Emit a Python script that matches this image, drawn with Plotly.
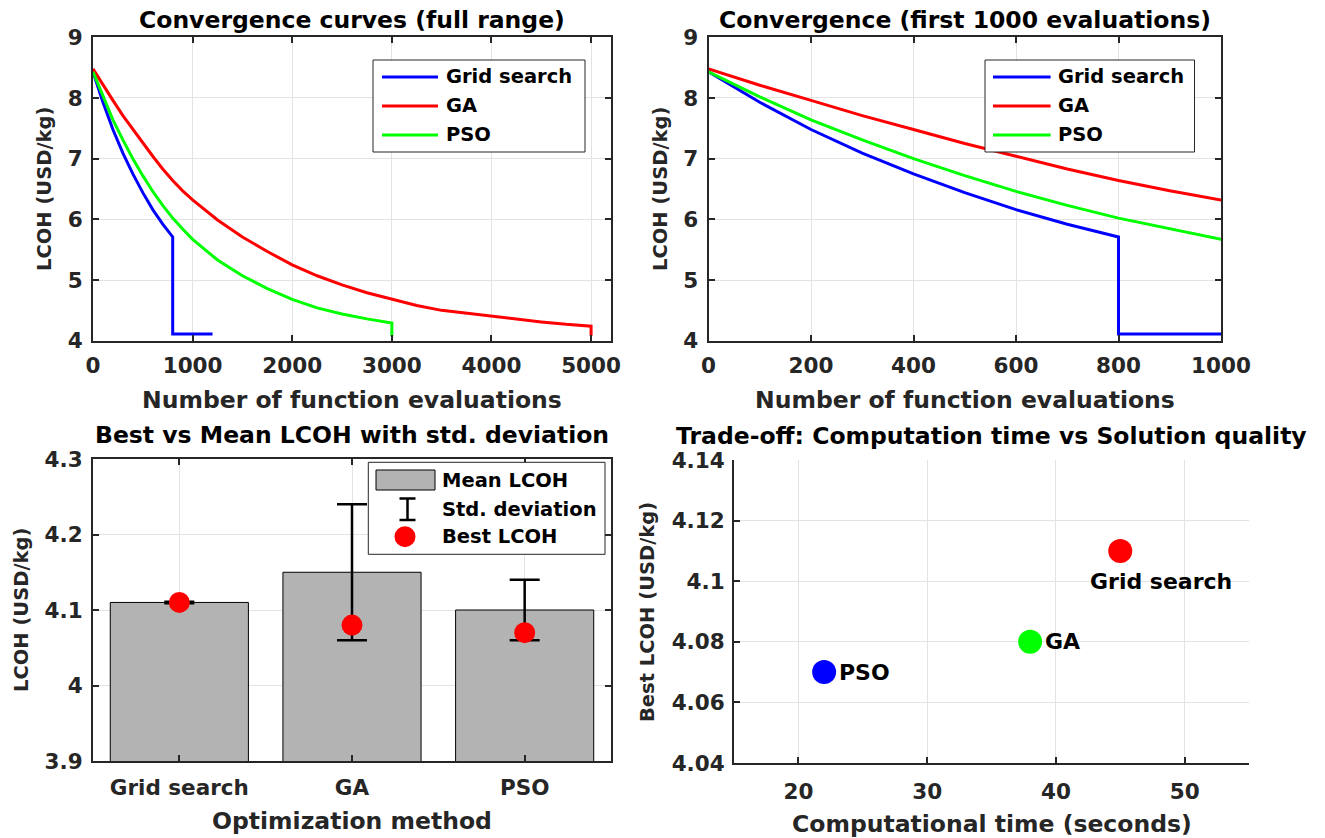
import plotly.graph_objects as go

W, H = 1325, 838

# ---------------- data ----------------
grid_evals = [0, 100, 200, 300, 400, 500, 600, 700, 800, 800, 1200]
grid_lcoh = [8.43, 7.93, 7.48, 7.09, 6.75, 6.44, 6.16, 5.92, 5.71, 4.11, 4.11]

ga_evals = [0, 100, 200, 300, 400, 500, 600, 700, 800, 900, 1000,
            1250, 1500, 1750, 2000, 2250, 2500, 2750, 3000, 3250, 3500,
            3750, 4000, 4250, 4500, 4750, 5000, 5000]
ga_lcoh = [8.48, 8.21, 7.96, 7.71, 7.48, 7.25, 7.04, 6.83, 6.64, 6.47, 6.32,
           5.99, 5.71, 5.47, 5.25, 5.07, 4.92, 4.79, 4.68, 4.58, 4.50,
           4.45, 4.40, 4.35, 4.31, 4.27, 4.24, 4.08]

pso_evals = [0, 100, 200, 300, 400, 500, 600, 700, 800, 900, 1000,
             1250, 1500, 1750, 2000, 2250, 2500, 2750, 3000, 3000]
pso_lcoh = [8.43, 8.02, 7.64, 7.31, 7.00, 6.72, 6.46, 6.23, 6.02, 5.84, 5.67,
            5.33, 5.07, 4.86, 4.68, 4.54, 4.44, 4.36, 4.29, 4.07]

methods = ["Grid search", "GA", "PSO"]
method_pos = [1, 2, 3]
mean_lcoh = [4.11, 4.15, 4.10]
std_lcoh = [0.001, 0.09, 0.04]
best_lcoh = [4.11, 4.08, 4.07]
comp_time = [45, 38, 22]

conv_xticks_full = [0, 1000, 2000, 3000, 4000, 5000]
conv_xticks_first = [0, 200, 400, 600, 800, 1000]
conv_yticks = [4, 5, 6, 7, 8, 9]
bar_yticks = [3.9, 4.0, 4.1, 4.2, 4.3]
bar_yticktext = ["3.9", "4", "4.1", "4.2", "4.3"]
sc_xticks = [20, 30, 40, 50]
sc_yticks = [4.04, 4.06, 4.08, 4.10, 4.12, 4.14]
sc_yticktext = ["4.04", "4.06", "4.08", "4.1", "4.12", "4.14"]

# ---------------- style ----------------
FONT = "DejaVu Sans"
AX = "#262626"
GRIDC = "#e3e3e3"
LINE_COL = {"Grid search": "#0000ff", "GA": "#ff0000", "PSO": "#00ff00"}
SCATTER_COL = ["#ff0000", "#00ff00", "#0000ff"]
LW = 3
TICK_SIZE = 21.5
TITLE_SIZE = 23.5
LABEL_SIZE = 23.5
YLABEL_SIZE = 19.5
LEG_SIZE = 19.5


def px(x):
    return x / W


def py(y):
    return 1 - y / H


def fnt(size, color=AX):
    return dict(family=FONT, size=size, color=color, weight="bold")


def axis_style(mirror=True):
    return dict(showline=True, linecolor=AX, linewidth=2, mirror="ticks" if mirror else False,
                ticks="inside", ticklen=6, tickwidth=1.5, tickcolor=AX,
                showgrid=True, gridcolor=GRIDC, gridwidth=1, zeroline=False,
                tickfont=fnt(TICK_SIZE), fixedrange=True, automargin=False)


fig = go.Figure()

series = [("Grid search", grid_evals, grid_lcoh),
          ("GA", ga_evals, ga_lcoh),
          ("PSO", pso_evals, pso_lcoh)]
for xa, ya in (("x", "y"), ("x2", "y2")):
    for name, ex, ly in series:
        fig.add_trace(go.Scatter(x=ex, y=ly, mode="lines", name=name,
                                 line=dict(color=LINE_COL[name], width=LW),
                                 xaxis=xa, yaxis=ya, showlegend=False))

# bar chart
fig.add_trace(go.Bar(x=method_pos, y=mean_lcoh, width=0.8,
                     marker=dict(color="#b3b3b3", line=dict(color="black", width=1)),
                     error_y=dict(type="data", array=std_lcoh, color="black",
                                  thickness=2.5, width=15),
                     xaxis="x3", yaxis="y3", showlegend=False))
fig.add_trace(go.Scatter(x=method_pos, y=best_lcoh, mode="markers",
                         marker=dict(color="red", size=21, line=dict(width=0)),
                         xaxis="x3", yaxis="y3", showlegend=False))

# scatter trade-off
fig.add_trace(go.Scatter(x=comp_time, y=best_lcoh, mode="markers",
                         marker=dict(color=SCATTER_COL, size=24, line=dict(width=0)),
                         xaxis="x4", yaxis="y4", showlegend=False))

label_dx = [-2.5, 1, 1]
label_dy = [-0.01, 0, 0]
annotations = []
for m, t, b, dx, dy in zip(methods, comp_time, best_lcoh, label_dx, label_dy):
    annotations.append(dict(x=t + dx, y=b + dy, xref="x4", yref="y4", text=m,
                            showarrow=False, xanchor="left", yanchor="middle",
                            font=fnt(22, "black")))

# titles
titles = [("Convergence curves (full range)", 352, 20),
          ("Convergence (first 1000 evaluations)", 964.75, 20),
          ("Best vs Mean LCOH with std. deviation", 352, 435),
          ("Trade-off: Computation time vs Solution quality", 991.5, 436)]
for t, x, y in titles:
    annotations.append(dict(x=px(x), y=py(y), xref="paper", yref="paper", text=t,
                            showarrow=False, xanchor="center", yanchor="middle",
                            font=fnt(TITLE_SIZE, "black")))

# axis labels
xlabels = [("Number of function evaluations", 352, 400),
           ("Number of function evaluations", 964.75, 400),
           ("Optimization method", 352, 821),
           ("Computational time (seconds)", 991.5, 824)]
for t, x, y in xlabels:
    annotations.append(dict(x=px(x), y=py(y), xref="paper", yref="paper", text=t,
                            showarrow=False, xanchor="center", yanchor="middle",
                            font=fnt(LABEL_SIZE)))
ylabels = [("LCOH (USD/kg)", 45, 189),
           ("LCOH (USD/kg)", 661, 189),
           ("LCOH (USD/kg)", 21, 610),
           ("Best LCOH (USD/kg)", 647, 612)]
for t, x, y in ylabels:
    annotations.append(dict(x=px(x), y=py(y), xref="paper", yref="paper", text=t,
                            showarrow=False, xanchor="center", yanchor="middle",
                            textangle=-90, font=fnt(YLABEL_SIZE)))

shapes = []
# legends of convergence plots (drawn manually to mimic MATLAB style)
for (bx0, bx1, lx0, lx1, tx) in ((373, 585, 382, 438, 444),
                                 (985, 1194.5, 993, 1050.6, 1056)):
    shapes.append(dict(type="rect", xref="paper", yref="paper",
                       x0=px(bx0), x1=px(bx1), y0=py(152), y1=py(60),
                       fillcolor="white", line=dict(color=AX, width=1)))
    for (name, _, _), yy in zip(series, (77, 106, 135)):
        shapes.append(dict(type="line", xref="paper", yref="paper",
                           x0=px(lx0), x1=px(lx1), y0=py(yy), y1=py(yy),
                           line=dict(color=LINE_COL[name], width=LW)))
        annotations.append(dict(x=px(tx), y=py(yy), xref="paper", yref="paper", text=name,
                                showarrow=False, xanchor="left", yanchor="middle",
                                font=fnt(LEG_SIZE, "black")))

# legend of bar chart
shapes.append(dict(type="rect", xref="paper", yref="paper",
                   x0=px(368.3), x1=px(605), y0=py(554.3), y1=py(462.3),
                   fillcolor="white", line=dict(color=AX, width=1)))
shapes.append(dict(type="rect", xref="paper", yref="paper",
                   x0=px(376), x1=px(435), y0=py(490), y1=py(470),
                   fillcolor="#b3b3b3", line=dict(color="black", width=1)))
shapes.append(dict(type="line", xref="paper", yref="paper",
                   x0=px(407.5), x1=px(407.5), y0=py(520), y1=py(498.5),
                   line=dict(color="black", width=2.5)))
for yy in (498.5, 520):
    shapes.append(dict(type="line", xref="paper", yref="paper",
                       x0=px(399.5), x1=px(415.5), y0=py(yy), y1=py(yy),
                       line=dict(color="black", width=2.5)))
shapes.append(dict(type="circle", xref="paper", yref="paper",
                   x0=px(405 - 10.5), x1=px(405 + 10.5), y0=py(536.7 + 10.5), y1=py(536.7 - 10.5),
                   fillcolor="red", line=dict(color="red", width=0)))
for t, yy in (("Mean LCOH", 480), ("Std. deviation", 509.3), ("Best LCOH", 536.7)):
    annotations.append(dict(x=px(440), y=py(yy), xref="paper", yref="paper", text=t,
                            showarrow=False, xanchor="left", yanchor="middle",
                            font=fnt(LEG_SIZE, "black")))

layout = dict(
    template="none",
    width=W, height=H, margin=dict(l=0, r=0, t=0, b=0, pad=0, autoexpand=False),
    paper_bgcolor="white", plot_bgcolor="white", showlegend=False,
    font=dict(family=FONT, color=AX),
    xaxis=dict(axis_style(), domain=[px(93), px(611)], anchor="y", range=[0, 5200],
               tickvals=conv_xticks_full, ticklabelstandoff=4),
    yaxis=dict(axis_style(), domain=[py(340.7), py(37.3)], anchor="x", range=[4, 9],
               tickvals=conv_yticks, ticklabelstandoff=4),
    xaxis2=dict(axis_style(), domain=[px(708.5), px(1221)], anchor="y2", range=[0, 1000],
                tickvals=conv_xticks_first, ticklabelstandoff=4),
    yaxis2=dict(axis_style(), domain=[py(340.7), py(37.3)], anchor="x2", range=[4, 9],
                tickvals=conv_yticks, ticklabelstandoff=4),
    xaxis3=dict(axis_style(), domain=[px(93), px(611)], anchor="y3", range=[0.5, 3.5],
                tickvals=method_pos, ticktext=methods, ticklabelstandoff=6),
    yaxis3=dict(axis_style(), domain=[py(761), py(459)], anchor="x3", range=[3.9, 4.3],
                tickvals=bar_yticks, ticktext=bar_yticktext, ticklabelstandoff=4),
    xaxis4=dict(axis_style(False), domain=[px(734), px(1249)], anchor="y4", range=[15, 55],
                tickvals=sc_xticks, ticklabelstandoff=8),
    yaxis4=dict(axis_style(False), domain=[py(763), py(460)], anchor="x4", range=[4.04, 4.14],
                tickvals=sc_yticks, ticktext=sc_yticktext, ticklabelstandoff=3),
    annotations=annotations, shapes=shapes,
)
fig.update_layout(**layout)
fig.write_html("out.html", config={"displayModeBar": False})
